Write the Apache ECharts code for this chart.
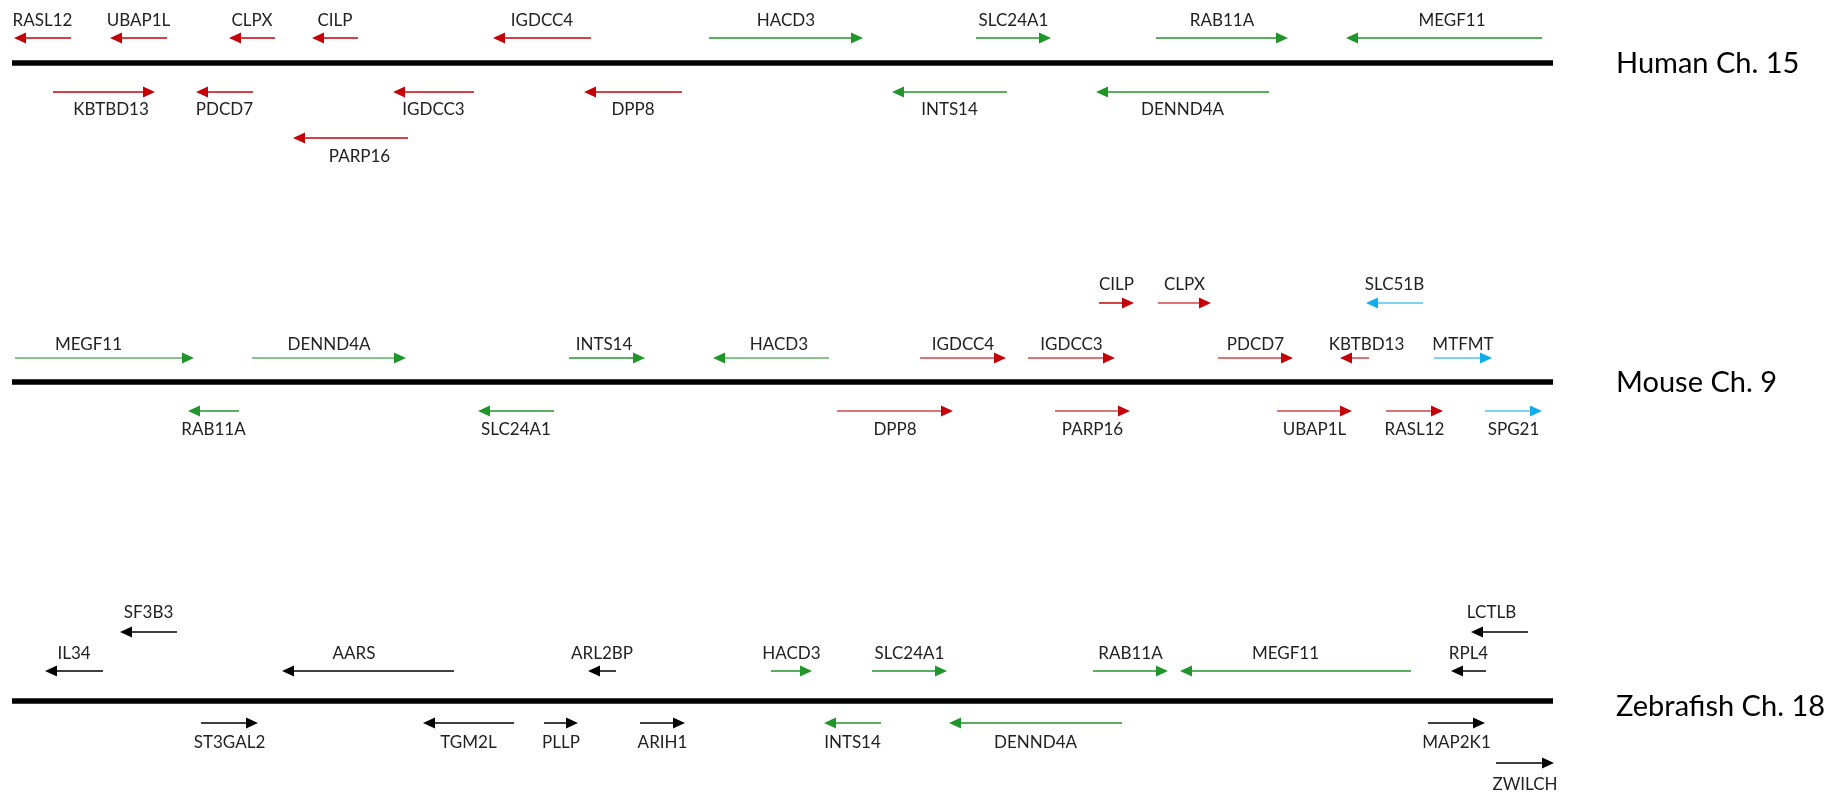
<!DOCTYPE html>
<html>
<head>
<meta charset="utf-8">
<title>Synteny: Human Ch. 15 / Mouse Ch. 9 / Zebrafish Ch. 18</title>
<script src="https://cdn.jsdelivr.net/npm/echarts@6/dist/echarts.min.js"></script>
<style>
  html, body { margin: 0; padding: 0; background: #ffffff; }
  #chart { width: 1845px; height: 797px; }
</style>
</head>
<body>
<div id="chart"></div>
<script>
// Chromosomes drawn as horizontal tracks (map units along x)
const chromosomes = ['Human Ch. 15', 'Mouse Ch. 9', 'Zebrafish Ch. 18'];
const chromStart = [12, 12, 12];
const chromEnd = [1553, 1553, 1553];

// Genes: arrow runs from -> to (strand direction), lane > 0 above the chromosome, < 0 below.
// Block: A = first conserved block, B = second conserved block, C = mouse-only, N = non-syntenic.
const humanGenes = ['RASL12', 'UBAP1L', 'CLPX', 'CILP', 'IGDCC4', 'HACD3', 'SLC24A1', 'RAB11A', 'MEGF11',
                    'KBTBD13', 'PDCD7', 'IGDCC3', 'DPP8', 'INTS14', 'DENND4A', 'PARP16'];
const humanFrom  = [71, 167, 275, 358, 591, 709, 976, 1156, 1542, 53, 253, 474, 682, 1007, 1269, 408];
const humanTo    = [14, 110, 229, 312, 493, 863, 1051, 1288, 1346, 155, 196, 393, 584, 892, 1096, 293];
const humanLane  = [1, 1, 1, 1, 1, 1, 1, 1, 1, -1, -1, -1, -1, -1, -1, -2];
const humanBlock = ['A', 'A', 'A', 'A', 'A', 'B', 'B', 'B', 'B', 'A', 'A', 'A', 'A', 'B', 'B', 'A'];

const mouseGenes = ['MEGF11', 'DENND4A', 'INTS14', 'HACD3', 'IGDCC4', 'IGDCC3', 'PDCD7', 'KBTBD13', 'MTFMT',
                    'CILP', 'CLPX', 'SLC51B',
                    'RAB11A', 'SLC24A1', 'DPP8', 'PARP16', 'UBAP1L', 'RASL12', 'SPG21'];
const mouseFrom  = [15, 252, 569, 829, 920, 1028, 1218, 1369, 1434, 1099, 1158, 1423, 239, 554, 837, 1055, 1277, 1386, 1485];
const mouseTo    = [194, 406, 645, 713, 1006, 1115, 1293, 1340, 1492, 1134, 1211, 1366, 188, 478, 953, 1130, 1352, 1443, 1542];
const mouseLane  = [1, 1, 1, 1, 1, 1, 1, 1, 1, 2, 2, 2, -1, -1, -1, -1, -1, -1, -1];
const mouseBlock = ['B', 'B', 'B', 'B', 'A', 'A', 'A', 'A', 'C', 'A', 'A', 'C', 'B', 'B', 'A', 'A', 'A', 'A', 'C'];

const fishGenes = ['IL34', 'AARS', 'ARL2BP', 'HACD3', 'SLC24A1', 'RAB11A', 'MEGF11', 'RPL4',
                   'SF3B3', 'LCTLB',
                   'ST3GAL2', 'TGM2L', 'PLLP', 'ARIH1', 'INTS14', 'DENND4A', 'MAP2K1',
                   'ZWILCH'];
const fishFrom  = [103, 454, 616, 771, 872, 1093, 1411, 1486, 177, 1528, 201, 514, 544, 640, 881, 1122, 1428, 1496];
const fishTo    = [45, 282, 588, 812, 947, 1168, 1180, 1451, 120, 1471, 258, 423, 578, 685, 824, 949, 1485, 1554];
const fishLane  = [1, 1, 1, 1, 1, 1, 1, 1, 2, 2, -1, -1, -1, -1, -1, -1, -1, -2];
const fishBlock = ['N', 'N', 'N', 'B', 'B', 'B', 'B', 'N', 'N', 'N', 'N', 'N', 'N', 'N', 'B', 'B', 'N', 'N'];

// ---- styling and layout ----
const blockColor = { A: '#c40008', B: '#20962a', C: '#12acea', N: '#000000' };
const textColor = '#222222';
const labelFont = '17px Lato, "Open Sans", sans-serif';
const titleFont = '29px Lato, "Open Sans", sans-serif';

// pixel offsets from the chromosome line: [arrow, label] for each lane
const laneLayout = [
  { '1': [-25, -42], '-1': [29, 47], '-2': [75, 94] },
  { '1': [-24, -37], '2': [-79, -97], '-1': [29, 48] },
  { '1': [-30, -47], '2': [-69, -88], '-1': [22, 42], '-2': [62, 84] }
];
// horizontal label adjustments
const labelNudge = {
  '0:KBTBD13': 7, '0:PARP16': 9, '0:MEGF11': 8,
  '1:MEGF11': -16, '1:KBTBD13': 12, '1:HACD3': 8, '1:INTS14': -3,
  '2:AARS': -14, '2:MEGF11': -10, '2:LCTLB': -8
};
// mouse stems drawn in a lighter tint
const lightStems = new Set(['MEGF11', 'DENND4A', 'HACD3', 'IGDCC4', 'IGDCC3', 'PDCD7', 'KBTBD13', 'MTFMT',
                            'CLPX', 'SLC51B', 'DPP8', 'PARP16', 'UBAP1L', 'RASL12', 'SPG21']);
const headLen = 12;
const headHalf = 5.5;

// build custom-series rows: [chromIndex, from, to, lane, block, name]
const geneRows = [];
function addGenes(ci, names, from, to, lane, block) {
  names.forEach((n, i) => geneRows.push([ci, from[i], to[i], lane[i], block[i], n]));
}
addGenes(0, humanGenes, humanFrom, humanTo, humanLane, humanBlock);
addGenes(1, mouseGenes, mouseFrom, mouseTo, mouseLane, mouseBlock);
addGenes(2, fishGenes, fishFrom, fishTo, fishLane, fishBlock);

const chromRows = chromosomes.map((c, i) => [i, chromStart[i], chromEnd[i], c]);

function renderChrom(params, api) {
  const ci = api.value(0);
  const a = api.coord([api.value(1), ci]);
  const b = api.coord([api.value(2), ci]);
  const name = chromosomes[ci];
  return {
    type: 'group',
    children: [
      { type: 'line', shape: { x1: a[0], y1: a[1], x2: b[0], y2: b[1] },
        style: { stroke: '#000000', lineWidth: 5.5, lineCap: 'butt' } },
      { type: 'text',
        style: { text: name, x: b[0] + 63, y: a[1] + (ci === 2 ? 6 : 1), align: 'left', verticalAlign: 'middle',
                 font: titleFont, fill: '#000000' } }
    ]
  };
}

function renderGene(params, api) {
  const ci = api.value(0);
  const from = api.value(1), to = api.value(2);
  const lane = String(api.value(3));
  const row = geneRows[params.dataIndex];
  const block = row[4], name = row[5];
  const p0 = api.coord([from, ci]);
  const p1 = api.coord([to, ci]);
  const off = laneLayout[ci][lane];
  const y = p0[1] + off[0];
  const dir = p1[0] > p0[0] ? 1 : -1;
  const color = blockColor[block];
  const light = ci === 1 && lightStems.has(name);
  const baseX = p1[0] - dir * headLen;
  const nudge = labelNudge[ci + ':' + name] || 0;
  return {
    type: 'group',
    children: [
      { type: 'line', shape: { x1: p0[0], y1: y, x2: baseX, y2: y },
        style: { stroke: color, lineWidth: light ? 2 : 1.5, opacity: light ? 0.55 : 1 } },
      { type: 'polygon',
        shape: { points: [[p1[0], y], [baseX, y - headHalf], [baseX, y + headHalf]] },
        style: { fill: color } },
      { type: 'text',
        style: { text: name, x: (p0[0] + p1[0]) / 2 + nudge, y: p0[1] + off[1],
                 align: 'center', verticalAlign: 'middle', font: labelFont, fill: textColor } }
    ]
  };
}

const chart = echarts.init(document.getElementById('chart'), null, { renderer: 'canvas' });
chart.setOption({
  backgroundColor: '#ffffff',
  animation: false,
  grid: { left: 0, right: 0, top: 63, height: 638, containLabel: false },
  xAxis: { type: 'value', min: 0, max: 1845, show: false },
  yAxis: { type: 'value', min: 0, max: 2, inverse: true, show: false },
  series: [
    { type: 'custom', name: 'chromosomes', data: chromRows, renderItem: renderChrom, clip: false,
      encode: { x: [1, 2], y: 0 }, silent: true },
    { type: 'custom', name: 'genes', data: geneRows, renderItem: renderGene, clip: false,
      encode: { x: [1, 2], y: 0 }, silent: true }
  ]
});
</script>
</body>
</html>
